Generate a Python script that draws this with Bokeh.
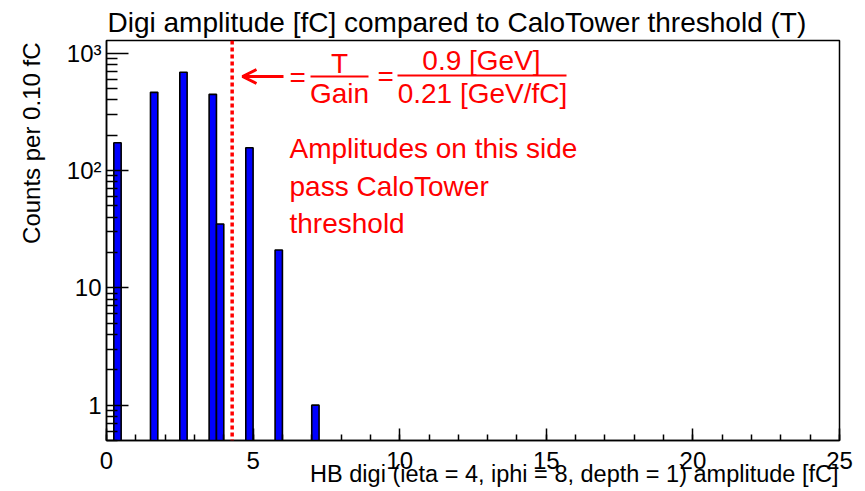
import math
from bokeh.plotting import figure
from bokeh.models import (ColumnDataSource, FixedTicker, Span, Label, Arrow,
                          OpenHead, Title)
from bokeh.embed import file_html
from bokeh.resources import INLINE

# ---------------- data ----------------
bin_left = [0.25, 1.5, 2.5, 3.5, 3.75, 4.75, 5.75, 7.0]
bin_right = [0.5, 1.75, 2.75, 3.75, 4.0, 5.0, 6.0, 7.25]
counts = [172, 463, 686, 445, 35, 156, 21, 1]

x_ticks = [0, 5, 10, 15, 20, 25]
x_minor = list(range(0, 26))
y_ticks = [1, 10, 100, 1000]
y_tick_labels = ["1", "10", "10\u00b2", "10\u00b3"]
y_minor = [m * 10 ** d for d in range(-1, 4) for m in range(2, 10)]

threshold_GeV = 0.9
gain_GeV_per_fC = 0.21
threshold_fC = threshold_GeV / gain_GeV_per_fC

title_text = "Digi amplitude [fC] compared to CaloTower threshold (T)"
x_title = "HB digi (ieta = 4, iphi = 8, depth = 1) amplitude [fC]"
y_title = "Counts per 0.10 fC"

X0, X1 = 0, 25
Y0, Y1 = 0.5, 1280

FONT = "Liberation Sans"

# ---------------- layout ----------------
W, H = 865, 491
BL, BR, BT, BB = 106, 26, 40, 51
FL, FR, FT, FB = BL, W - BR, BT, H - BB


def px2x(px):
    return X0 + (px - FL) / (FR - FL) * (X1 - X0)


def py2y(py):
    l0, l1 = math.log10(Y0), math.log10(Y1)
    return 10 ** (l1 - (py - FT) / (FB - FT) * (l1 - l0))


p = figure(width=W, height=H, x_range=(X0, X1), y_range=(Y0, Y1),
           y_axis_type="log", output_backend="svg", toolbar_location=None,
           min_border_left=BL, min_border_right=BR, min_border_top=BT,
           min_border_bottom=BB)
p.title.text = title_text
p.title.text_font = FONT
p.title.text_font_size = "28px"
p.title.text_font_style = "normal"
p.title.text_color = "black"
p.title.align = "left"
p.title.offset = 1
p.title.standoff = 5
p.background_fill_color = "white"
p.border_fill_color = "white"
p.outline_line_color = "black"
p.outline_line_width = 1.5
p.grid.visible = False

src = ColumnDataSource(dict(left=bin_left, right=bin_right, top=counts,
                            bottom=[1e-3] * len(counts)))
p.quad(left="left", right="right", top="top", bottom="bottom", source=src,
       fill_color="#0000ff", line_color="black", line_width=1.6)

# main axes (ticks + tick labels)
for ax in (p.xaxis[0], p.yaxis[0]):
    ax.axis_line_color = "black"
    ax.axis_line_width = 1.5
    ax.major_tick_line_color = "black"
    ax.minor_tick_line_color = "black"
    ax.major_tick_line_width = 1.5
    ax.minor_tick_line_width = 1.5
    ax.major_tick_out = 0
    ax.minor_tick_out = 0
    ax.major_label_text_font = FONT
    ax.major_label_text_font_size = "24px"
    ax.major_label_text_color = "black"

p.xaxis.ticker = FixedTicker(ticks=x_ticks, minor_ticks=x_minor)
p.xaxis.major_tick_in = 12
p.xaxis.minor_tick_in = 6
p.xaxis.major_label_standoff = 11

p.yaxis.ticker = FixedTicker(ticks=y_ticks, minor_ticks=y_minor)
p.yaxis.major_label_overrides = dict(zip(y_ticks, y_tick_labels))
p.yaxis.major_tick_in = 22
p.yaxis.minor_tick_in = 11
p.yaxis.major_label_standoff = 5

# axis titles, right/top aligned like ROOT
p.add_layout(Title(text=x_title, align="right", vertical_align="top",
                   offset=1, standoff=-22, text_font=FONT,
                   text_font_size="23.5px", text_font_style="normal",
                   text_color="black"), "below")
p.add_layout(Title(text=y_title, align="right", vertical_align="top",
                   offset=2, standoff=34, text_font=FONT,
                   text_font_size="24px", text_font_style="normal",
                   text_color="black"), "left")

# threshold line
p.add_layout(Span(location=threshold_fC, dimension="height", line_color="red",
                  line_width=3.5, line_dash="4 3"))

RED = "#ff0000"
SHIFT = 0.37  # empirical baseline correction (fraction of font size)


def lab(text, px, py, size, align="left", color=RED):
    p.add_layout(Label(x=px2x(px), y=py2y(py - SHIFT * size), text=text,
                       text_font=FONT, text_font_size=f"{size}px",
                       text_color=color, text_align=align,
                       text_baseline="alphabetic"))


# arrow
p.add_layout(Arrow(x_start=px2x(283), y_start=py2y(76), x_end=px2x(242),
                   y_end=py2y(76), line_color=RED, line_width=3,
                   end=OpenHead(size=14, line_color=RED, line_width=3)))

# fraction
lab("=", 289, 87, 28)
lab("T", 339, 73, 28, "center")
lab("Gain", 339, 103, 28, "center")
p.add_layout(Arrow(x_start=px2x(310), y_start=py2y(76), x_end=px2x(368),
                   y_end=py2y(76), line_color=RED, line_width=2, end=None))
lab("=", 377, 86, 28)
lab("0.9 [GeV]", 481, 70, 28, "center")
lab("0.21 [GeV/fC]", 482, 103, 28, "center")
p.add_layout(Arrow(x_start=px2x(397), y_start=py2y(75), x_end=px2x(566),
                   y_end=py2y(75), line_color=RED, line_width=2, end=None))

lab("Amplitudes on this side", 289, 158, 28)
lab("pass CaloTower", 289, 196, 28)
lab("threshold", 289, 233, 28)

open("out.html", "w").write(file_html(p, INLINE))
